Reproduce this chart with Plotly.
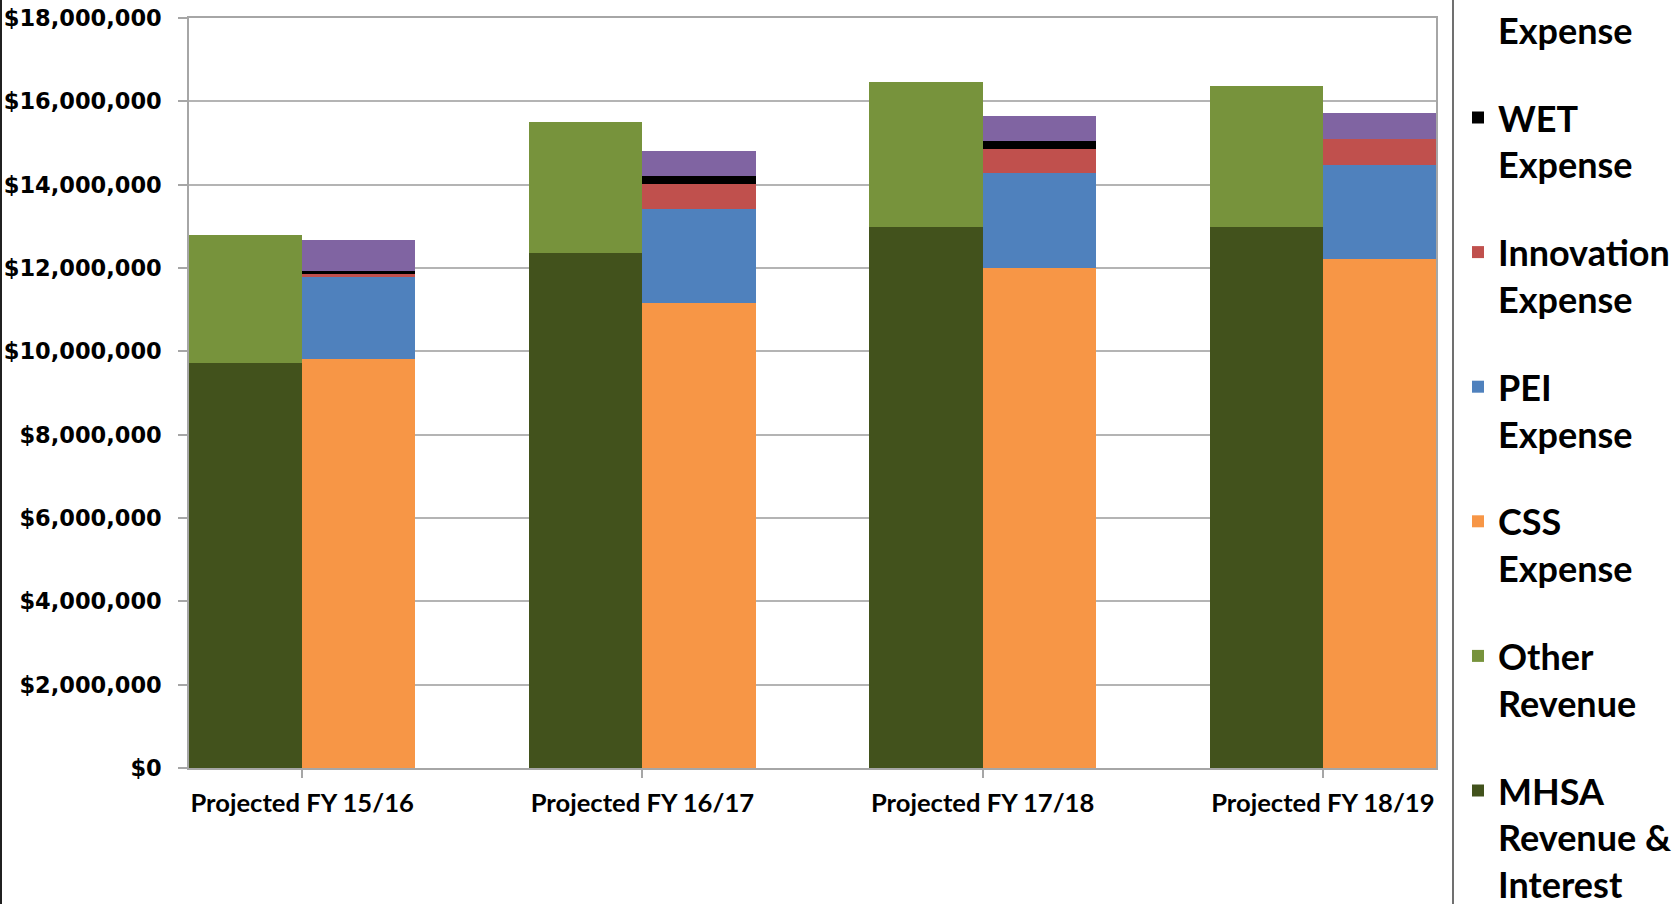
import plotly.graph_objects as go

categories = ["Projected FY 15/16", "Projected FY 16/17", "Projected FY 17/18", "Projected FY 18/19"]

mhsa_revenue = [9720000, 12370000, 12980000, 12980000]
other_revenue = [3070000, 3130000, 3490000, 3400000]
css_expense = [9820000, 11160000, 12000000, 12220000]
pei_expense = [1960000, 2260000, 2280000, 2250000]
innovation_expense = [70000, 590000, 580000, 620000]
wet_expense = [80000, 200000, 180000, 0]
cftn_expense = [740000, 600000, 620000, 640000]

y_tick_values = [0, 2000000, 4000000, 6000000, 8000000, 10000000, 12000000, 14000000, 16000000, 18000000]
y_tick_labels = ["$0", "$2,000,000", "$4,000,000", "$6,000,000", "$8,000,000", "$10,000,000",
                 "$12,000,000", "$14,000,000", "$16,000,000", "$18,000,000"]

# name, values, colour, offset group, legend rank (top of legend first)
series = [
    ("MHSA<br>Revenue &<br>Interest", mhsa_revenue, "#42521c", "rev", 7),
    ("Other<br>Revenue", other_revenue, "#77933c", "rev", 6),
    ("CSS<br>Expense", css_expense, "#f79646", "exp", 5),
    ("PEI<br>Expense", pei_expense, "#4f81bd", "exp", 4),
    ("Innovation<br>Expense", innovation_expense, "#c0504d", "exp", 3),
    ("WET<br>Expense", wet_expense, "#000000", "exp", 2),
    ("CFTN<br>Expense", cftn_expense, "#8064a2", "exp", 1),
]

fig = go.Figure()
for name, vals, color, grp, rank in series:
    fig.add_trace(go.Bar(
        x=categories, y=vals, name=name, offsetgroup=grp, legendgroup=name,
        legendrank=rank,
        marker=dict(color=color, line=dict(width=0)),
    ))

W, H = 1674, 904
L, R, T, B = 189, 238, 18, 136

def px_x(p):
    return (p - L) / (W - L - R)

def px_y(p):
    return (H - B - p) / (H - T - B)

fig.update_layout(
    width=W, height=H,
    margin=dict(l=L, r=R, t=T, b=B, autoexpand=False),
    barmode="stack", bargap=0.335, bargroupgap=0,
    plot_bgcolor="white", paper_bgcolor="white",
    showlegend=True,
    legend=dict(
        x=px_x(1458), xanchor="left", y=px_y(-47), yanchor="top",
        traceorder="grouped", tracegroupgap=38, maxheight=1600, valign="top",
        font=dict(family="Lato", size=36, color="black", weight="bold"),
        bgcolor="rgba(0,0,0,0)",
    ),
    xaxis=dict(
        type="category", range=[-0.3325, 3.3325],
        showline=True, linecolor="#a6a6a6", linewidth=1.5, mirror=True,
        ticks="outside", ticklen=8, tickcolor="#a6a6a6", tickwidth=1.5,
        tickfont=dict(family="Lato", size=25.6, color="black", weight="bold"),
        ticklabelstandoff=4,
        showgrid=False,
    ),
    yaxis=dict(
        range=[0, 18000000], tickvals=y_tick_values, ticktext=y_tick_labels,
        showline=True, linecolor="#a6a6a6", linewidth=1.5, mirror=True,
        ticks="outside", ticklen=9, tickcolor="#a6a6a6", tickwidth=1.5,
        showgrid=True, gridcolor="#b4b4b4", gridwidth=1.5,
        tickfont=dict(family="DejaVu Sans", size=22.5, color="black", weight="bold"),
        ticklabelstandoff=12, zeroline=False,
    ),
    shapes=[
        dict(type="line", xref="paper", yref="paper", x0=px_x(1), x1=px_x(1),
             y0=px_y(0), y1=px_y(H), line=dict(color="#202020", width=2)),
        dict(type="line", xref="paper", yref="paper", x0=px_x(1453), x1=px_x(1453),
             y0=px_y(0), y1=px_y(H), line=dict(color="#404040", width=1.5)),
    ],
)

fig.write_html("out.html", config={"displayModeBar": False},
               post_script="document.body.style.margin='0';")
